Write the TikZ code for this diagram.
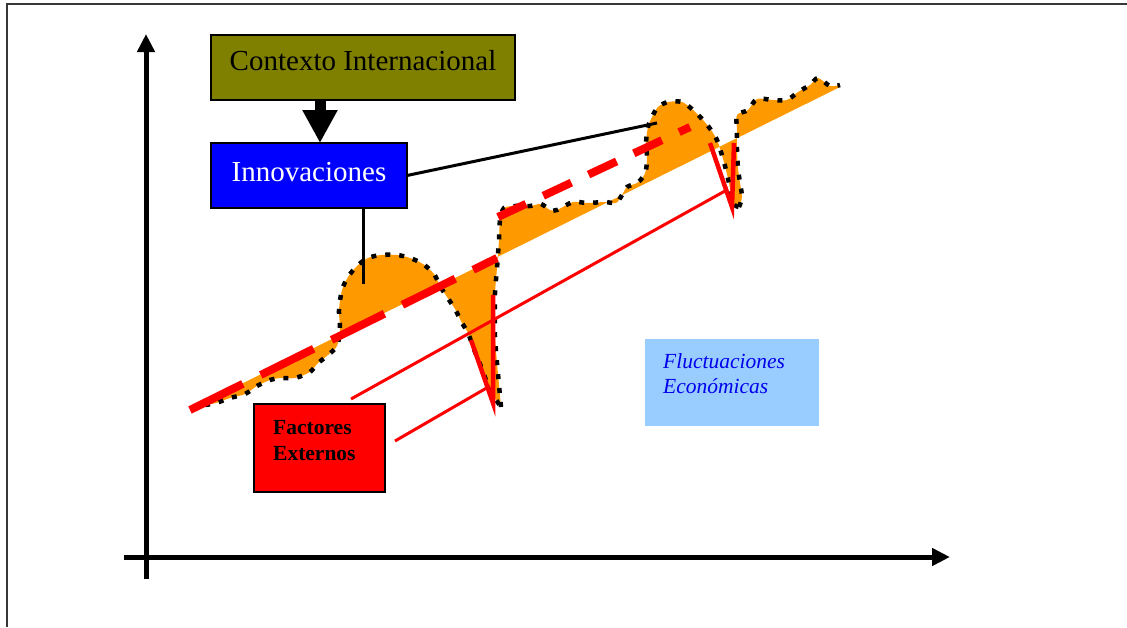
\documentclass[tikz,border=0pt]{standalone}
\usepackage{fontspec}
\setmainfont{Liberation Serif}
\usetikzlibrary{arrows.meta}
\definecolor{olivebox}{RGB}{128,128,0}
\definecolor{innoblue}{RGB}{0,0,255}
\definecolor{trendorange}{RGB}{255,153,0}
\definecolor{paleblue}{RGB}{153,204,255}
\definecolor{fluctext}{RGB}{0,0,235}
\definecolor{framegray}{RGB}{55,55,55}
\begin{document}
\begin{tikzpicture}[x=1pt,y=-1pt,
  box/.style={draw=black,line width=1.5pt,inner sep=0pt,outer sep=0pt,anchor=north west},
  axisline/.style={line width=5pt,-{Triangle[length=18pt,width=17pt]}},
  link/.style={line width=3pt,black},
  shockline/.style={line width=3pt,red},
  shockv/.style={line width=4.5pt,red,line join=miter},
  trenddash/.style={line width=8pt,red},
  dotcurve/.style={line width=4.5pt,black,dash pattern=on 5pt off 9pt},
  bigfont/.style={font=\fontsize{29}{34}\selectfont},
  boldlabel/.style={anchor=base west,inner sep=0pt,font=\fontsize{21.5}{25.7}\selectfont\bfseries},
  italabel/.style={anchor=base west,inner sep=0pt,text=fluctext,font=\fontsize{21.5}{25.7}\selectfont\itshape}]
\useasboundingbox (0,0) rectangle (1127,627);

% outer frame
\draw[line width=2pt,framegray] (7,627) -- (7,4) -- (1127,4);

% axes
\coordinate (yfoot) at (146,579);
\coordinate (ytip) at (146,34);
\coordinate (xfoot) at (124,557);
\coordinate (xtip) at (950,557);
\draw[axisline] (yfoot) -- (ytip);
\draw[axisline] (xfoot) -- (xtip);

% growth curve: area between the wave and the trend line
\def\waveA{(205,405) (216,403) (230,398) (245,394) (257,386) (270,380) (280,378) (295,378) (310,372) (317,364) (328,355) (337,346) (340,330) (339,310) (342,290) (348,277) (357,266) (368,258) (381,255) (397,255) (410,258) (423,264) (434,274) (440,286) (447,297) (455,309) (462,323) (468,333) (475,352) (480,364) (486,380) (491,392) (501,407)}
\def\waveB{(501,407) (499,385) (497,363) (495,337) (495,317) (495,293) (497,268) (499,240) (500,220) (504,208) (515,206) (530,206) (541,204) (550,210) (557,210) (573,202) (587,203) (605,202) (616,203) (622,195) (627,187) (637,183) (643,177) (646,170) (647,157) (646,143) (648,127) (652,117) (658,107) (668,102) (682,102) (693,110) (703,120) (711,130) (717,140) (721,152) (725,166) (729,183) (733,203) (739,207)}
\def\waveC{(739,207) (742,197) (740,183) (738,168) (737,150) (737,130) (737,115) (748,110) (757,99) (773,100) (787,100) (798,92) (810,85) (818,78) (830,86) (840,85)}

\fill[trendorange] plot[smooth,tension=0.5] coordinates {\waveA}
  -- plot[smooth,tension=0.5] coordinates {\waveB}
  -- plot[smooth,tension=0.5] coordinates {\waveC}
  -- (840,87) -- (205,402) -- cycle;

\draw[dotcurve] plot[smooth,tension=0.5] coordinates {\waveA};
\draw[dotcurve] plot[smooth,tension=0.5] coordinates {\waveB};
\draw[dotcurve] plot[smooth,tension=0.5] coordinates {\waveC};

% dashed trend lines
\coordinate (trendA0) at (190,410);
\coordinate (trendA1) at (497,258);
\coordinate (trendB0) at (498,217);
\coordinate (trendB1) at (690,127);
\draw[trenddash,dash pattern=on 59pt off 20pt] (trendA0) -- (trendA1);
\draw[trenddash,dash pattern=on 31pt off 19pt] (trendB0) -- (trendB1);

% shocks at the two dips
\draw[shockv] (471,340) -- (493,403) -- (493,295);
\draw[shockv] (710,143) -- (732,207) -- (734,143);

% boxes
\node[box,fill=olivebox,minimum width=304pt,minimum height=65pt,
      text height=35.7pt,text depth=29.3pt,bigfont] (ctx) at (211,35) {Contexto Internacional};
\node[box,fill=innoblue,text=white,minimum width=196pt,minimum height=65pt,
      text height=38pt,text depth=27pt,bigfont] (innov) at (211,143) {Innovaciones};
\node[box,fill=red,minimum width=131pt,minimum height=88pt] (fact) at (254,404) {};
\node[boldlabel] (factA) at (273,434) {Factores};
\node[boldlabel] (factB) at (273,460) {Externos};
\node[box,draw=none,fill=paleblue,minimum width=174pt,minimum height=87pt] (fluc) at (645,339) {};
\node[italabel] (flucA) at (663,368) {Fluctuaciones};
\node[italabel] (flucB) at (663,393) {Económicas};

% external factor lines
\coordinate (shockA0) at (351,399);
\coordinate (shockA1) at (725,191);
\coordinate (shockB0) at (395,441);
\coordinate (shockB1) at (490,386);
\draw[shockline] (shockA0) -- (shockA1);
\draw[shockline] (shockB0) -- (shockB1);

% context drives innovation
\coordinate (arrx) at (320,0);
\draw[line width=11pt,-{Triangle[length=33pt,width=33pt]}] (arrx |- ctx.south) -- (arrx |- innov.north);

% innovations point to the two booms
\coordinate (hump1) at (363,284);
\coordinate (hump2) at (657,123);
\draw[link] (innov.east) -- (hump2);
\draw[link] (innov.south -| hump1) -- (hump1);
\end{tikzpicture}
\end{document}
